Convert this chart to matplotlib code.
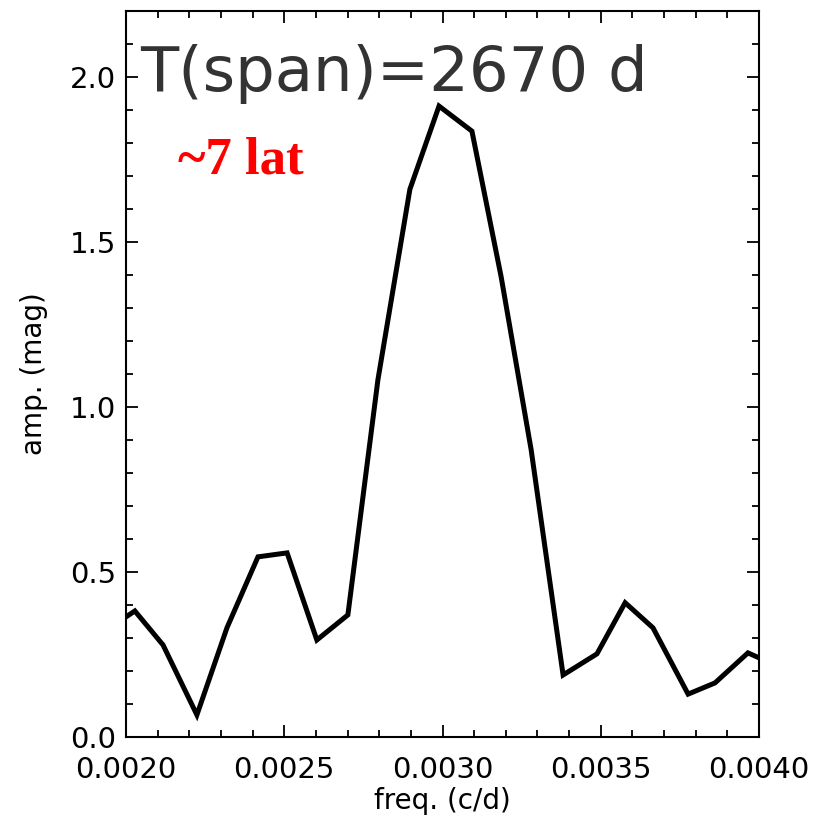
import matplotlib.pyplot as plt
from matplotlib.ticker import MultipleLocator, FormatStrFormatter

# amplitude spectrum
freq = [0.0020, 0.002028, 0.002117, 0.002224, 0.002319, 0.002417, 0.002509,
        0.002603, 0.002701, 0.002796, 0.002897, 0.002989, 0.003093, 0.003185,
        0.003280, 0.003381, 0.003488, 0.003577, 0.003665, 0.003776, 0.003861,
        0.003965, 0.0040]
amp = [0.364, 0.382, 0.279, 0.067, 0.331, 0.546, 0.558,
       0.294, 0.370, 1.083, 1.660, 1.912, 1.836, 1.396,
       0.871, 0.188, 0.252, 0.407, 0.331, 0.130, 0.164,
       0.255, 0.240]

span_label = "T(span)=2670 d"
note_label = "~7 lat"

fig = plt.figure(figsize=(8.15, 8.18), dpi=100)
ax = fig.add_axes([0.1546, 0.099, 0.7767, 0.8875])

ax.plot(freq, amp, color="black", linewidth=3.6, solid_joinstyle="miter")
ax.set_xlim(0.0020, 0.0040)
ax.set_ylim(0.0, 2.2)

ax.xaxis.set_major_locator(MultipleLocator(0.0005))
ax.xaxis.set_minor_locator(MultipleLocator(0.0001))
ax.yaxis.set_major_locator(MultipleLocator(0.5))
ax.yaxis.set_minor_locator(MultipleLocator(0.1))
ax.xaxis.set_major_formatter(FormatStrFormatter("%.4f"))
ax.yaxis.set_major_formatter(FormatStrFormatter("%.1f"))

ax.tick_params(which="both", direction="in", top=True, right=True, width=1.3)
ax.tick_params(which="major", length=8.5)
ax.tick_params(which="minor", length=5)
ax.tick_params(axis="x", which="major", labelsize=21, pad=14)
ax.tick_params(axis="y", which="major", labelsize=21, pad=7)
for spine in ax.spines.values():
    spine.set_linewidth(1.5)

ax.set_xlabel("freq. (c/d)", fontsize=20, labelpad=2)
ax.set_ylabel("amp. (mag)", fontsize=20, labelpad=16)

ax.text(0.022, 1.957, span_label, transform=ax.get_yaxis_transform(),
        fontsize=45, va="baseline", ha="left", color="#333333")
ax.text(0.082, 1.707, note_label, transform=ax.get_yaxis_transform(),
        fontsize=38, fontweight="bold", family="Liberation Serif",
        color="#ff0000", va="baseline", ha="left")

fig.savefig("out.png", dpi=100)
plt.close(fig)
